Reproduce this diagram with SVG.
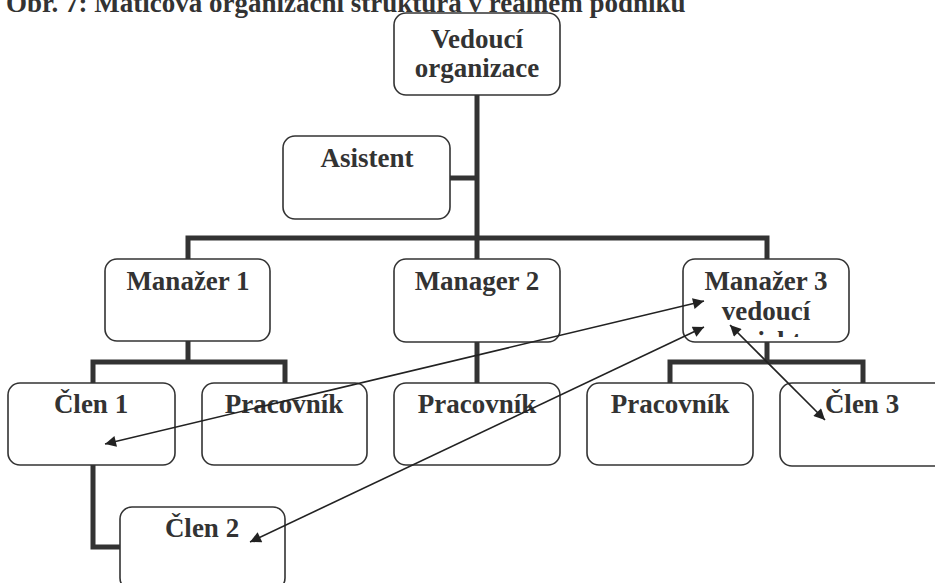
<svg xmlns="http://www.w3.org/2000/svg" width="935" height="583" viewBox="0 0 935 583">
<style>
.box{fill:#fff;stroke:#333;stroke-width:1.6}
.lbl{font-family:"Liberation Serif","Times New Roman",serif;font-weight:bold;font-size:27px;fill:#333;text-anchor:middle}
.title{font-family:"Liberation Serif","Times New Roman",serif;font-weight:bold;font-size:27px;fill:#333}
.thick{fill:none;stroke:#333;stroke-width:5}
.arr{fill:none;stroke:#222;stroke-width:1.6;marker-start:url(#ah);marker-end:url(#ah)}
</style>
<defs>
<marker id="ah" viewBox="0 0 10 10" refX="10" refY="5" markerUnits="userSpaceOnUse" markerWidth="16" markerHeight="11" orient="auto-start-reverse">
<path d="M0,0 L10,5 L0,10 z" fill="#222"/>
</marker>
<clipPath id="m3clip"><rect x="683" y="259" width="166" height="78"/></clipPath>
</defs>
<rect width="935" height="583" fill="#fff"/>
<text class="title" x="6" y="12">Obr. 7: Maticová organizační struktura v reálném podniku</text>
<g id="connectors">
<path class="thick" d="M477,95 V238"/>
<path class="thick" d="M450,178 H477"/>
<path class="thick" d="M188,259 V238 H767 V259"/>
<path class="thick" d="M477,238 V259"/>
<path class="thick" d="M188,341 V362"/>
<path class="thick" d="M93,383 V362 H285 V383"/>
<path class="thick" d="M477,342 V383"/>
<path class="thick" d="M767,342 V362"/>
<path class="thick" d="M670,383 V362 H863 V383"/>
<path class="thick" d="M93,465 V547 H120"/>
</g>
<g id="n-vedouci"><rect class="box" x="394" y="13" width="166" height="82" rx="12"/><text class="lbl" x="477" y="48">Vedoucí</text><text class="lbl" x="477" y="77">organizace</text></g>
<g id="n-asistent"><rect class="box" x="283" y="136" width="167" height="83" rx="12"/><text class="lbl" x="367" y="167">Asistent</text></g>
<g id="n-manazer1"><rect class="box" x="105" y="259" width="165" height="82" rx="12"/><text class="lbl" x="188" y="290">Manažer 1</text></g>
<g id="n-manager2"><rect class="box" x="394" y="259" width="166" height="83" rx="12"/><text class="lbl" x="477" y="290">Manager 2</text></g>
<g id="n-manazer3"><rect class="box" x="683" y="259" width="166" height="83" rx="12"/><text class="lbl" x="766" y="290">Manažer 3</text><text class="lbl" x="766" y="320">vedoucí</text><text class="lbl" x="766" y="350" clip-path="url(#m3clip)">projektu</text></g>
<g id="n-clen1"><rect class="box" x="8" y="383" width="167" height="82" rx="12"/><text class="lbl" x="91" y="413">Člen 1</text></g>
<g id="n-pracovnik1"><rect class="box" x="202" y="383" width="165" height="82" rx="12"/><text class="lbl" x="284" y="413">Pracovník</text></g>
<g id="n-pracovnik2"><rect class="box" x="394" y="383" width="166" height="82" rx="12"/><text class="lbl" x="477" y="413">Pracovník</text></g>
<g id="n-pracovnik3"><rect class="box" x="587" y="383" width="166" height="82" rx="12"/><text class="lbl" x="670" y="413">Pracovník</text></g>
<g id="n-clen3"><rect class="box" x="780" y="383" width="167" height="83" rx="12"/><text class="lbl" x="862" y="413">Člen 3</text></g>
<g id="n-clen2"><rect class="box" x="120" y="507" width="165" height="83" rx="12"/><text class="lbl" x="202" y="537">Člen 2</text></g>
<g id="arrows">
<line class="arr" x1="105" y1="444" x2="704" y2="301"/>
<line class="arr" x1="250" y1="542" x2="704" y2="327"/>
<line class="arr" x1="730" y1="325" x2="825" y2="420"/>
</g>
</svg>
